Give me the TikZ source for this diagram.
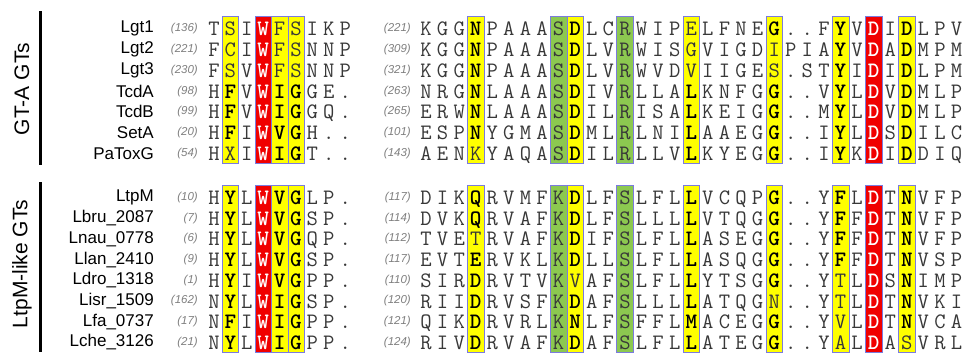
\documentclass[tikz,border=0pt]{standalone}
\usepackage{fontspec}
\newfontfamily\labelfont{Liberation Sans}
\usepackage{xcolor}
\definecolor{HiYellow}{HTML}{FFFF00}
\definecolor{HiRed}{HTML}{F00000}
\definecolor{HiGreen}{HTML}{8CC850}
\definecolor{BoxLine}{HTML}{7B7BDE}
\definecolor{ResGray}{HTML}{383838}
\definecolor{NumGray}{HTML}{808080}
\tikzset{
    res/.style={
        inner sep=0pt,
        anchor=base,
        text=ResGray,
        font=\fontsize{22}{22}\selectfont\ttfamily
    },
    seqname/.style={
        inner sep=0pt,
        anchor=east,
        text=black,
        font=\labelfont\fontsize{17}{18}\selectfont
    },
    seqnum/.style={
        inner sep=0pt,
        anchor=east,
        text=NumGray,
        font=\labelfont\itshape\fontsize{11.5}{12}\selectfont
    },
    grouptitle/.style={
        inner sep=0pt,
        rotate=90,
        font=\labelfont\fontsize{21}{22}\selectfont
    },
    groupbar/.style={
        line width=3pt,
        black
    },
    hibox/.style={
        draw=BoxLine,
        line width=0.6pt
    }
}
% bold residue and white residue (red column)
\newcommand\bres[1]{{\bfseries\color{black}#1}}
\newcommand\wres[1]{{\bfseries\color{white}#1}}
% one aligned sequence: id, name, y, first number, first block, second number, second block
\newcommand\seqrow[7]{%
    \node[seqname] (#1-name) at (154,#3) {#2};
    \node[seqnum] (#1-n1) at (198,#3) {(#4)};
    \node[seqnum] (#1-n2) at (411,#3) {(#6)};
    \foreach \c [count=\i from 0] in {#5} {\node[res] (#1-a\i) at ({214+16.4*\i},#3+7) {\c};}
    \foreach \c [count=\i from 0] in {#7} {\node[res] (#1-b\i) at ({426+16.58*\i},#3+7) {\c};}
}

\begin{document}
\begin{tikzpicture}[x=1pt, y=-1pt]
    \useasboundingbox (0,0) rectangle (966,354);
    \fill[white] (0,0) rectangle (966,354);

    % highlighted columns
    \foreach \ya/\yb in {16.7/163, 185/352.7} {
        \foreach \i/\cl in {1/HiYellow,3/HiRed,4/HiYellow,5/HiYellow}
            \filldraw[hibox, fill=\cl] ({214+16.4*\i-8.2},\ya) rectangle ({214+16.4*\i+8.2},\yb);
        \foreach \i/\cl in {3/HiYellow,8/HiGreen,9/HiYellow,12/HiGreen,16/HiYellow,21/HiYellow,25/HiYellow,27/HiRed,29/HiYellow}
            \filldraw[hibox, fill=\cl] ({426+16.58*\i-8.29},\ya) rectangle ({426+16.58*\i+8.29},\yb);
    }

    % group titles
    \node[grouptitle] (gta) at (22,89) {GT-A GTs};
    \coordinate (gta-top) at (40,11);
    \coordinate (gta-bot) at (40,165);
    \draw[groupbar] (gta-top) -- (gta-bot);

    \node[grouptitle] (ltpm) at (22,264) {LtpM-like GTs};
    \coordinate (ltpm-top) at (40,182);
    \coordinate (ltpm-bot) at (40,352);
    \draw[groupbar] (ltpm-top) -- (ltpm-bot);

    % GT-A GTs
    \seqrow{lgt1}{Lgt1}{28.7}{136}{T,S,I,\wres W,F,S,I,K,P}{221}{K,G,G,\bres N,P,A,A,A,S,\bres D,L,C,R,W,I,P,E,L,F,N,E,\bres G,.,.,F,\bres Y,V,\wres D,I,\bres D,L,P,V}
    \seqrow{lgt2}{Lgt2}{49.5}{221}{F,C,I,\wres W,F,S,N,N,P}{309}{K,G,G,\bres N,P,A,A,A,S,\bres D,L,V,R,W,I,S,G,V,I,G,D,I,P,I,A,\bres Y,V,\wres D,A,\bres D,M,P,M}
    \seqrow{lgt3}{Lgt3}{70.3}{230}{F,S,V,\wres W,F,S,N,N,P}{321}{K,G,G,\bres N,P,A,A,A,S,\bres D,L,V,R,W,V,D,V,I,I,G,E,S,.,S,T,\bres Y,I,\wres D,I,\bres D,L,P,M}
    \seqrow{tcda}{TcdA}{91.1}{98}{H,\bres F,V,\wres W,\bres I,\bres G,G,E,.}{263}{N,R,G,\bres N,L,A,A,A,S,\bres D,I,V,R,L,L,A,\bres L,K,N,F,G,\bres G,.,.,V,\bres Y,L,\wres D,V,\bres D,M,L,P}
    \seqrow{tcdb}{TcdB}{111.9}{99}{H,\bres F,V,\wres W,\bres I,\bres G,G,Q,.}{265}{E,R,W,\bres N,L,A,A,A,S,\bres D,I,L,R,I,S,A,\bres L,K,E,I,G,\bres G,.,.,M,\bres Y,L,\wres D,V,\bres D,M,L,P}
    \seqrow{seta}{SetA}{132.7}{20}{H,\bres F,I,\wres W,\bres V,\bres G,H,.,.}{101}{E,S,P,\bres N,Y,G,M,A,S,\bres D,M,L,R,L,N,I,\bres L,A,A,E,G,\bres G,.,.,I,\bres Y,L,\wres D,S,\bres D,I,L,C}
    \seqrow{patoxg}{PaToxG}{153.5}{54}{H,X,I,\wres W,\bres I,\bres G,T,.,.}{143}{A,E,N,K,Y,A,Q,A,S,\bres D,I,L,R,L,L,V,\bres L,K,Y,E,G,\bres G,.,.,I,\bres Y,K,\wres D,I,\bres D,D,I,Q}

    % LtpM-like GTs
    \seqrow{ltpm}{LtpM}{197.5}{10}{H,\bres Y,L,\wres W,\bres V,\bres G,L,P,.}{117}{D,I,K,\bres Q,R,V,M,F,K,\bres D,L,F,S,L,F,L,\bres L,V,C,Q,P,\bres G,.,.,Y,\bres F,L,\wres D,T,\bres N,V,F,P}
    \seqrow{lbru}{Lbru\_2087}{218.2}{7}{H,\bres Y,L,\wres W,\bres V,\bres G,S,P,.}{114}{D,V,K,\bres Q,R,V,A,F,K,\bres D,L,F,S,L,L,L,\bres L,V,T,Q,G,\bres G,.,.,Y,\bres F,F,\wres D,T,\bres N,V,F,P}
    \seqrow{lnau}{Lnau\_0778}{238.9}{6}{H,\bres Y,L,\wres W,\bres V,\bres G,Q,P,.}{112}{T,V,E,T,R,V,A,F,K,\bres D,I,F,S,L,F,L,\bres L,A,S,E,G,\bres G,.,.,Y,\bres F,F,\wres D,T,\bres N,V,F,P}
    \seqrow{llan}{Llan\_2410}{259.6}{9}{H,\bres Y,L,\wres W,\bres V,\bres G,S,P,.}{117}{E,V,T,\bres E,R,V,K,L,K,\bres D,L,L,S,L,F,L,\bres L,A,S,Q,G,\bres G,.,.,Y,\bres F,F,\wres D,T,\bres N,V,S,P}
    \seqrow{ldro}{Ldro\_1318}{280.3}{1}{H,\bres Y,I,\wres W,\bres V,\bres G,P,P,.}{110}{S,I,R,\bres D,R,V,T,V,K,V,A,F,S,L,F,L,\bres L,Y,T,S,G,\bres G,.,.,Y,T,L,\wres D,S,\bres N,I,M,P}
    \seqrow{lisr}{Lisr\_1509}{301.0}{162}{N,\bres Y,L,\wres W,\bres I,\bres G,S,P,.}{120}{R,I,I,\bres D,R,V,S,F,K,\bres D,A,F,S,L,L,L,\bres L,A,T,Q,G,N,.,.,Y,T,L,\wres D,T,\bres N,V,K,I}
    \seqrow{lfa}{Lfa\_0737}{321.7}{17}{N,\bres F,I,\wres W,\bres I,\bres G,P,P,.}{121}{Q,I,K,\bres D,R,V,R,L,K,\bres N,L,F,S,F,F,L,\bres M,A,C,E,G,\bres G,.,.,Y,V,L,\wres D,T,\bres N,V,C,A}
    \seqrow{lche}{Lche\_3126}{342.4}{21}{N,\bres Y,L,\wres W,\bres I,\bres G,P,P,.}{124}{R,I,V,\bres D,R,V,A,F,K,\bres D,A,F,S,L,F,L,\bres L,A,T,E,G,\bres G,.,.,Y,A,L,\wres D,A,S,V,R,L}
\end{tikzpicture}
\end{document}
